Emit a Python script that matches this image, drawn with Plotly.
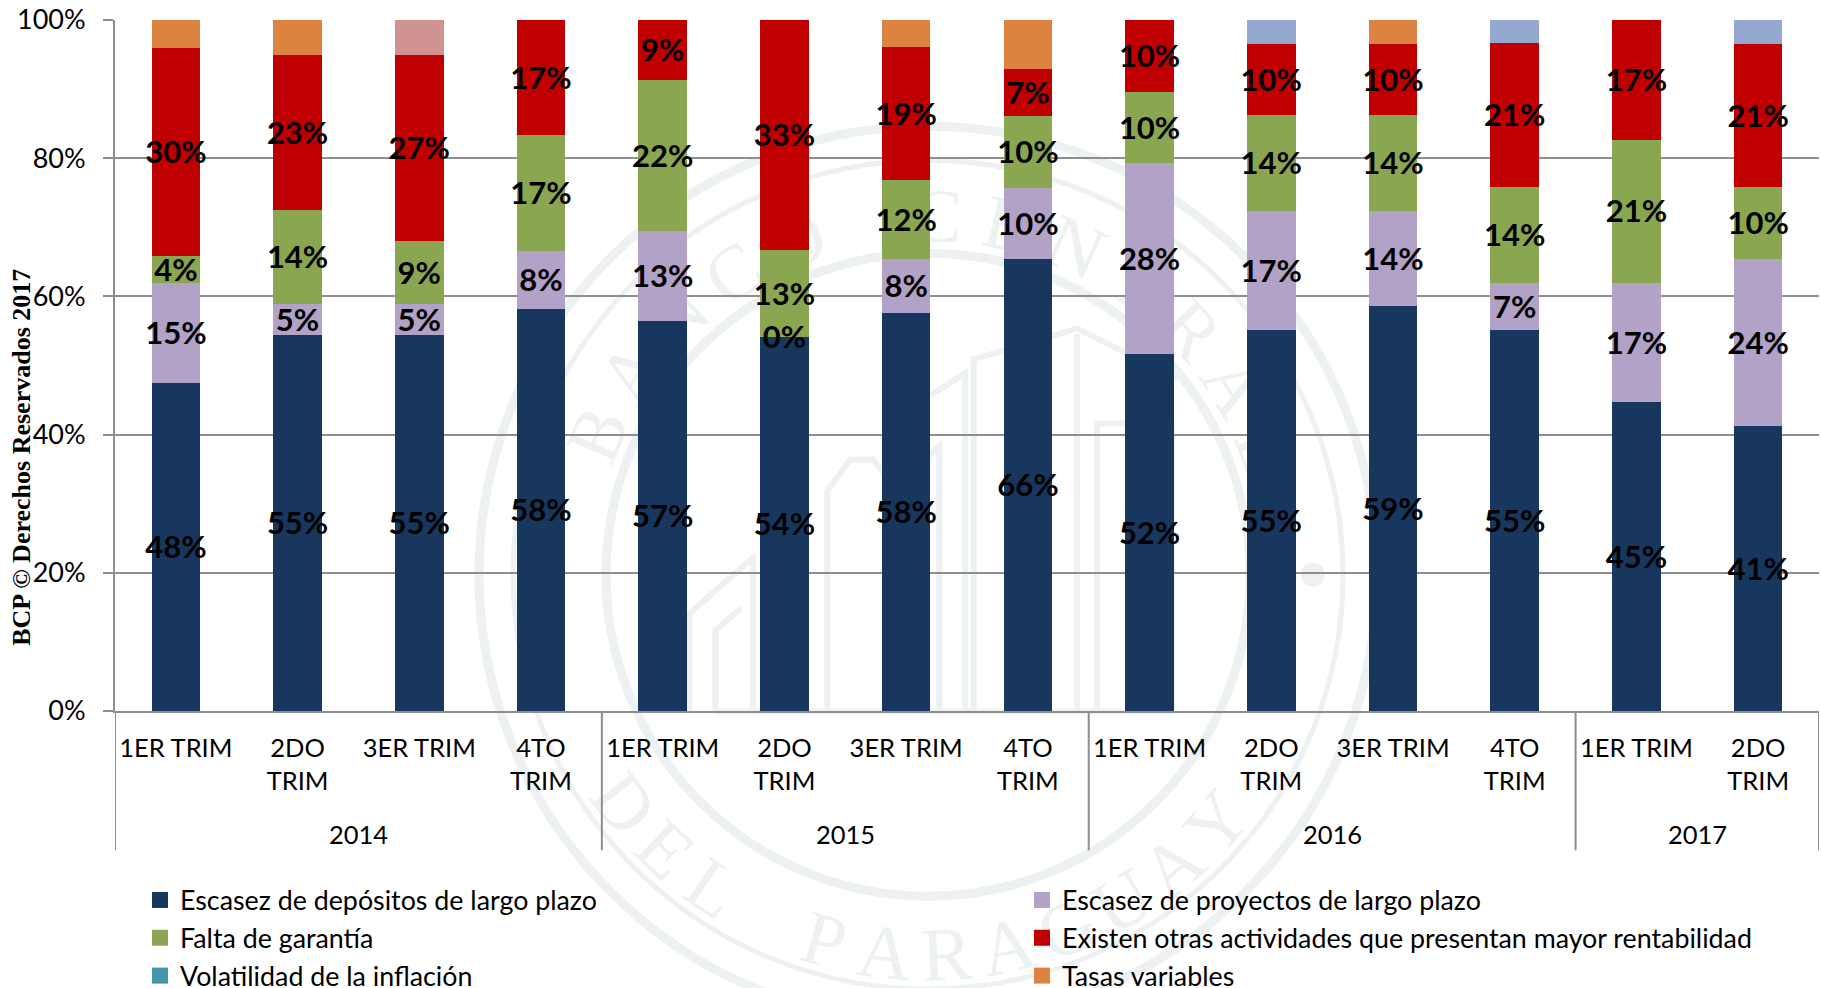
import math
import plotly.graph_objects as go

years = ["2014"]*4 + ["2015"]*4 + ["2016"]*4 + ["2017"]*2
quarters = ["1ER TRIM", "2DO<br>TRIM", "3ER TRIM", "4TO<br>TRIM"]*3 + ["1ER TRIM", "2DO<br>TRIM"]
y_ticks = [0, 20, 40, 60, 80, 100]
y_labels = ["0%", "20%", "40%", "60%", "80%", "100%"]

depositos = [47.5, 54.4, 54.4, 58.2, 56.4, 54.1, 57.6, 65.4, 51.6, 55.1, 58.6, 55.1, 44.7, 41.2]
proyectos = [14.4, 4.55, 4.55, 8.4, 13.1, 0, 7.75, 10.3, 27.7, 17.3, 13.8, 6.9, 17.3, 24.2]
garantia = [4.0, 13.5, 9.0, 16.7, 21.8, 12.55, 11.55, 10.35, 10.3, 13.8, 13.8, 13.9, 20.7, 10.45]
rentabilidad = [30.05, 22.5, 27.0, 16.7, 8.7, 33.35, 19.15, 6.9, 10.4, 10.3, 10.3, 20.7, 17.3, 20.7]
inflacion = [0]*14
tasas = [4.05, 5.05, 0, 0, 0, 0, 3.95, 7.05, 0, 0, 3.5, 0, 0, 0]
rosa = [0, 0, 5.05, 0, 0, 0, 0, 0, 0, 0, 0, 0, 0, 0]
azul = [0, 0, 0, 0, 0, 0, 0, 0, 0, 3.5, 0, 3.4, 0, 3.45]

lab_dep = ["48%", "55%", "55%", "58%", "57%", "54%", "58%", "66%", "52%", "55%", "59%", "55%", "45%", "41%"]
lab_pro = ["15%", "5%", "5%", "8%", "13%", "0%", "8%", "10%", "28%", "17%", "14%", "7%", "17%", "24%"]
lab_gar = ["4%", "14%", "9%", "17%", "22%", "13%", "12%", "10%", "10%", "14%", "14%", "14%", "21%", "10%"]
lab_ren = ["30%", "23%", "27%", "17%", "9%", "33%", "19%", "7%", "10%", "10%", "10%", "21%", "17%", "21%"]

W, H = 1821, 988
L, R, T, B = 115, 2, 19.5, 276.5
FONT = "Lato"
GRID = "#8e8e8e"
WM = "#edf1f1"
LABEL_NUDGE = 0.5   # text baseline correction, in axis units

series = [
    ("Escasez de depósitos de largo plazo", depositos, "#17375E", lab_dep, "legend"),
    ("Escasez de proyectos de largo plazo", proyectos, "#B2A2C7", lab_pro, "legend2"),
    ("Falta de garantía", garantia, "#8BA650", lab_gar, "legend"),
    ("Existen otras actividades que presentan mayor rentabilidad", rentabilidad, "#C00000", lab_ren, "legend2"),
    ("Volatilidad de la inflación", inflacion, "#4198AF", None, "legend"),
    ("Tasas variables", tasas, "#DD8340", None, "legend2"),
    ("Otros 1", rosa, "#D19392", None, None),
    ("Otros 2", azul, "#95A9D0", None, None),
]

x = list(range(len(quarters)))
fig = go.Figure()
for name, vals, color, labs, leg in series:
    fig.add_trace(go.Bar(name=name, x=x, y=vals, marker=dict(color=color, line=dict(width=0)),
                         showlegend=False, hoverinfo="skip"))

# value labels on top of all the bars, centred in their segment
base = [0.0]*14
for name, vals, color, labs, leg in series:
    mids = [b + v/2 - LABEL_NUDGE for b, v in zip(base, vals)]
    base = [b + v for b, v in zip(base, vals)]
    if labs:
        fig.add_trace(go.Scatter(x=x, y=mids, mode="text", text=labs, textposition="middle center",
                                 textfont=dict(family=FONT, size=31, color="black", weight=700),
                                 cliponaxis=False, showlegend=False, hoverinfo="skip"))

# legend entries (square swatches, two columns)
for i, (name, vals, color, labs, leg) in enumerate(series):
    if leg:
        fig.add_trace(go.Scatter(x=[0], y=[None], mode="markers", name=name, legend=leg,
                                 marker=dict(symbol="square", size=17, color=color, line=dict(width=0)),
                                 hoverinfo="skip"))

# --- watermark (decoration behind the bars, in page pixels)
px = lambda v: (v - L) / (W - L - R)
py = lambda v: 1 - (v - T) / (H - T - B)
shapes = []
CX, CY = 928, 575
for r, w in [(449, 9), (415, 5), (322, 9)]:
    shapes.append(dict(type="circle", xref="paper", yref="paper", layer="below",
                       x0=px(CX-r), x1=px(CX+r), y0=py(CY+r), y1=py(CY-r),
                       line=dict(color=WM, width=w)))
for sx in (-385, 385):
    shapes.append(dict(type="circle", xref="paper", yref="paper", layer="below",
                       x0=px(CX+sx-12), x1=px(CX+sx+12), y0=py(CY+12), y1=py(CY-12),
                       fillcolor=WM, line=dict(width=0)))

def letter(ch, deg, rad, rot):
    a = math.radians(deg)
    xx, yy = CX + rad*math.cos(a), CY - rad*math.sin(a)
    return dict(type="rect", xref="paper", yref="paper", layer="below",
                x0=px(xx-50), x1=px(xx+50), y0=py(yy+50), y1=py(yy-50),
                line=dict(width=0), fillcolor="rgba(0,0,0,0)",
                label=dict(text=ch, textposition="middle center", textangle=rot,
                           font=dict(family="Liberation Serif", size=76, color=WM)))

for i, ch in enumerate("BANCO CENTRAL"):
    deg = 157 - i*11.4
    if ch != " ":
        shapes.append(letter(ch, deg, 368, 90-deg))
for i, ch in enumerate("DEL PARAGUAY"):
    deg = 217 + i*9.3
    if ch != " ":
        shapes.append(letter(ch, deg, 372, 270-deg))

zx = lambda v: 460 + v/1.742
zy = lambda v: 110 + v/1.786
building = [
    [(400,1075),(400,900),(510,800),(510,1075)],
    [(445,1075),(445,930),(490,890)],
    [(640,1075),(640,680),(680,625),(720,625),(760,680),(760,1075)],
    [(835,1075),(835,600),(760,670)],
    [(880,1075),(880,470),(820,510)],
    [(895,1075),(895,445),(1060,395),(1075,390),(1250,480)],
    [(1075,1075),(1075,400)],
    [(1110,1075),(1110,560),(1240,560),(1240,1075)],
    [(445,1075),(1240,1075)],
]
for seg in building:
    p = "M" + " L".join(f"{px(zx(a)):.5f},{py(zy(b)):.5f}" for a, b in seg)
    shapes.append(dict(type="path", xref="paper", yref="paper", layer="below", path=p,
                       line=dict(color=WM, width=6)))

annotations = [dict(text="<b>BCP © Derechos Reservados 2017</b>", textangle=-90, xref="paper", yref="paper",
                    x=px(22), y=py(458), xanchor="center", yanchor="middle", showarrow=False,
                    font=dict(family="Liberation Serif", size=26, color="black"))]

# year groups: label centred under its quarters, divider lines between groups
groups = []
for i, yr in enumerate(years):
    if not groups or groups[-1][0] != yr:
        groups.append([yr, i, i])
    groups[-1][2] = i
edges = [g[1] - 0.5 for g in groups] + [groups[-1][2] + 0.5]
for e in edges:
    shapes.append(dict(type="line", xref="x", yref="paper", x0=e, x1=e, y0=0, y1=py(851),
                       line=dict(color=GRID, width=2), layer="above"))
for yr, a, b in groups:
    annotations.append(dict(text=yr, xref="x", yref="paper", x=(a+b)/2, y=py(835), xanchor="center",
                            yanchor="middle", showarrow=False, font=dict(family=FONT, size=25.5, color="black")))

leg_common = dict(orientation="v", xref="container", yref="container", xanchor="left", yanchor="top",
                  traceorder="normal", font=dict(size=26.8), bgcolor="rgba(0,0,0,0)",
                  itemclick=False, itemdoubleclick=False, itemsizing="trace", maxheight=200)

fig.update_layout(
    width=W, height=H, autosize=False, barmode="stack", bargap=0.6,
    margin=dict(l=L, r=R, t=T, b=B, pad=0, autoexpand=False),
    paper_bgcolor="white", plot_bgcolor="rgba(0,0,0,0)",
    font=dict(family=FONT, size=25, color="black"),
    shapes=shapes, annotations=annotations,
    xaxis=dict(range=[-0.5, len(x)-0.5], tickvals=x, ticktext=quarters, showgrid=False, ticks="", zeroline=False,
               ticklabelstandoff=13, tickangle=0, showline=True, linecolor=GRID, linewidth=2,
               tickfont=dict(size=25.5), automargin=False),
    yaxis=dict(range=[0, 100], tickvals=y_ticks, ticktext=y_labels, showgrid=True, gridcolor=GRID,
               gridwidth=2, ticks="outside", ticklen=10, tickwidth=2, tickcolor=GRID, showline=True,
               ticklabelstandoff=12, linecolor=GRID, linewidth=2, zeroline=False, tickfont=dict(size=27), automargin=False),
    legend=dict(x=140/W, y=1-876/H, **leg_common),
    legend2=dict(x=1022/W, y=1-876/H, **leg_common),
)
fig.write_html("out.html", config=dict(displayModeBar=False),
               post_script="document.body.style.margin='0';document.body.style.overflow='hidden';")
